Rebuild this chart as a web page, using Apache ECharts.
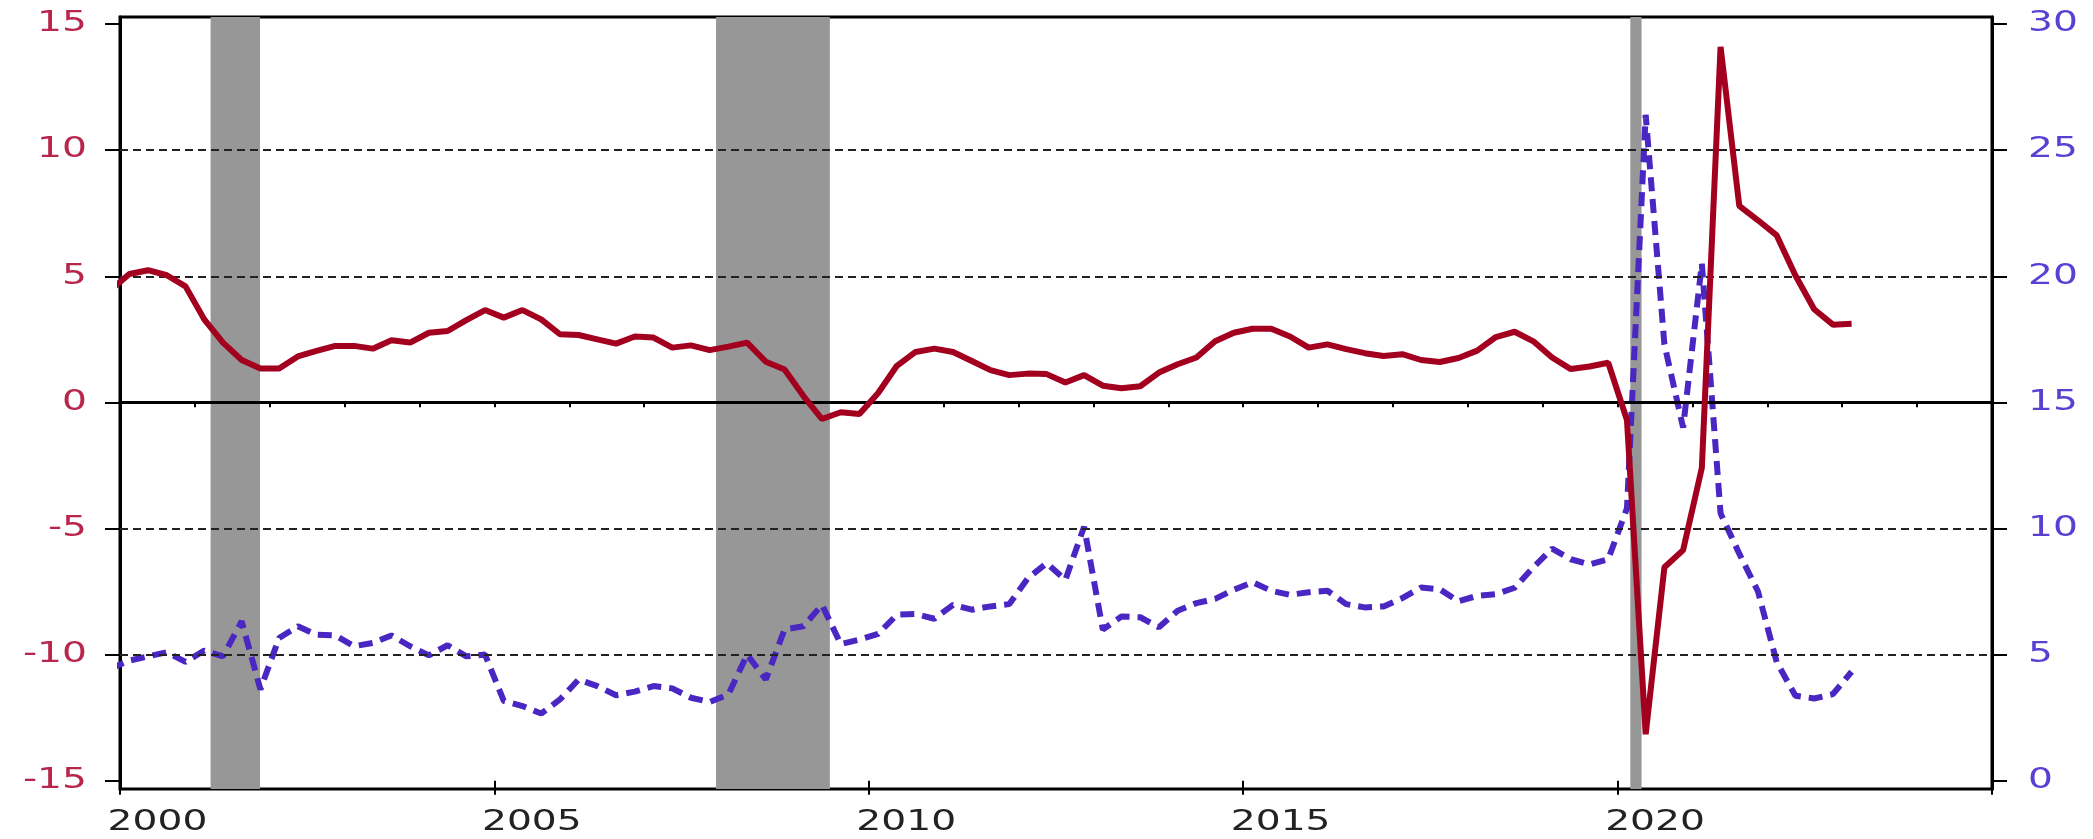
<!DOCTYPE html>
<html>
<head>
<meta charset="utf-8">
<script src="https://cdn.jsdelivr.net/npm/echarts@6/dist/echarts.min.js"></script>
<style>
  html, body { margin: 0; padding: 0; background: #fff; }
  #chart { width: 2093px; height: 839px; }
</style>
</head>
<body>
<div id="chart"></div>
<script>
// quarterly data, 1999Q4 .. 2023Q1
var firstYear = 1999, firstQuarter = 4;

// solid red line, left axis (%)
var redValues = [
  4.45,
  5.09, 5.24, 5.04, 4.60,
  3.29, 2.37, 1.68, 1.34,
  1.34, 1.82, 2.04, 2.24,
  2.24, 2.13, 2.46, 2.37,
  2.76, 2.83, 3.26, 3.66,
  3.36, 3.66, 3.29, 2.70,
  2.67, 2.50, 2.33, 2.61,
  2.57, 2.17, 2.26, 2.07,
  2.21, 2.37, 1.61, 1.30,
  0.26, -0.66, -0.39, -0.46,
  0.37, 1.45, 2.00, 2.13,
  2.00, 1.64, 1.28, 1.08,
  1.14, 1.12, 0.79, 1.08,
  0.66, 0.56, 0.64, 1.18,
  1.51, 1.78, 2.42, 2.76,
  2.92, 2.92, 2.61, 2.17,
  2.30, 2.11, 1.95, 1.84,
  1.91, 1.68, 1.60, 1.76,
  2.05, 2.59, 2.80, 2.42,
  1.78, 1.32, 1.42, 1.57,
  -0.70, -13.16, -6.54, -5.86,
  -2.60, 14.10, 7.79, 7.22,
  6.62, 5.03, 3.69, 3.08,
  3.12
];

// dashed purple line, right axis (%)
var dashValues = [
  4.45,
  4.76, 4.93, 5.09, 4.71,
  5.16, 4.93, 6.32, 3.62,
  5.66, 6.12, 5.79, 5.76,
  5.33, 5.46, 5.76, 5.33,
  4.97, 5.37, 4.93, 5.00,
  3.16, 2.96, 2.66, 3.22,
  4.01, 3.75, 3.39, 3.53,
  3.75, 3.66, 3.29, 3.12,
  3.42, 5.00, 4.01, 6.00,
  6.12, 6.97, 5.42, 5.59,
  5.82, 6.58, 6.61, 6.42,
  6.97, 6.78, 6.91, 7.00,
  8.03, 8.62, 7.96, 10.07,
  5.99, 6.51, 6.48, 6.08,
  6.74, 7.04, 7.21, 7.57,
  7.87, 7.53, 7.37, 7.47,
  7.53, 7.00, 6.87, 6.91,
  7.24, 7.66, 7.59, 7.11,
  7.33, 7.40, 7.65, 8.46,
  9.20, 8.78, 8.57, 8.78,
  10.80, 26.40, 17.30, 14.00,
  20.50, 10.60, 9.00, 7.50,
  4.70, 3.37, 3.26, 3.43,
  4.32
];

// recession bands (decimal years)
var recessionStart = [2001.21, 2007.96, 2020.17];
var recessionEnd   = [2001.87, 2009.48, 2020.32];

var leftTicks  = [-15, -10, -5, 0, 5, 10, 15];
var rightTicks = [0, 5, 10, 15, 20, 25, 30];
var dashedGrid = [-10, -5, 5, 10];
var yearLabels = [2000, 2005, 2010, 2015, 2020];
var majorYears = [2000, 2005, 2010, 2015, 2020, 2025];

var minorYears = [];
for (var y = 2000; y <= 2025; y++) minorYears.push(y);

// x position of each quarter = middle of the quarter
var quarterPos = [];
var yy = firstYear, qq = firstQuarter;
for (var i = 0; i < redValues.length; i++) {
  quarterPos.push(yy + (qq - 0.5) / 4);
  qq++;
  if (qq > 4) { qq = 1; yy++; }
}

var redData = quarterPos.map(function (t, i) { return [t, redValues[i]]; });
var dashData = quarterPos.map(function (t, i) { return [t, dashValues[i]]; });

var font = 'DejaVu Sans';
var fontSize = 28;
var stretch = 1.4;   // labels in the original are drawn wide
var chart = echarts.init(document.getElementById('chart'));

var option = {
  backgroundColor: '#ffffff',
  animation: false,
  grid: {
    left: 120, right: 101, top: 17, bottom: 50,
    show: true, borderColor: '#000', borderWidth: 3,
    backgroundColor: 'transparent'
  },
  xAxis: [{
    type: 'value', min: 2000, max: 2025, position: 'bottom',
    axisLine: { show: true, lineStyle: { color: '#000', width: 3 } },
    axisTick: { show: true, customValues: minorYears, length: 5, lineStyle: { color: '#000', width: 2 } },
    axisLabel: { show: false },
    splitLine: { show: false }
  }, {
    type: 'value', min: 2000, max: 2025, position: 'bottom',
    axisLine: { show: false },
    axisTick: { show: true, customValues: majorYears, length: 14, lineStyle: { color: '#000', width: 2 } },
    axisLabel: { show: false },
    splitLine: { show: false }
  }],
  yAxis: [{
    type: 'value', min: -15.33, max: 15.28, position: 'left',
    axisLine: { show: true, lineStyle: { color: '#000', width: 3 } },
    axisTick: { show: true, customValues: leftTicks, length: 15, lineStyle: { color: '#000', width: 2 } },
    axisLabel: { show: false },
    splitLine: { show: false }
  }, {
    type: 'value', min: -0.33, max: 30.28, position: 'right',
    axisLine: { show: true, lineStyle: { color: '#000', width: 3 } },
    axisTick: { show: true, customValues: rightTicks, length: 15, lineStyle: { color: '#000', width: 2 } },
    axisLabel: { show: false },
    splitLine: { show: false }
  }],
  series: [
    {
      // recession shading
      type: 'line', data: [], z: 1, silent: true,
      markArea: {
        silent: true,
        itemStyle: { color: '#979797', opacity: 1 },
        data: recessionStart.map(function (s, i) {
          return [{ xAxis: s }, { xAxis: recessionEnd[i] }];
        })
      }
    },
    {
      // grid lines
      type: 'line', data: [], z: 2, silent: true,
      markLine: {
        silent: true, symbol: 'none', label: { show: false },
        data: dashedGrid.map(function (v) {
          return { yAxis: v, lineStyle: { color: '#222', width: 2, type: [8, 5] } };
        }).concat([{ yAxis: 0, lineStyle: { color: '#000', width: 3, type: 'solid' } }])
      }
    },
    {
      type: 'line', data: dashData, yAxisIndex: 1, z: 4,
      showSymbol: false,
      lineStyle: { color: '#4a26c2', width: 6, type: [14, 8] }
    },
    {
      type: 'line', data: redData, yAxisIndex: 0, z: 5,
      showSymbol: false,
      lineStyle: { color: '#a3001f', width: 6 }
    }
  ]
};

chart.setOption(option);

// axis labels as stretched text, placed through the axes' own scales
function label(text, x, y, align, vAlign, color) {
  return {
    type: 'text', x: x, y: y, scaleX: stretch, silent: true,
    style: {
      text: text, fill: color, font: fontSize + 'px "' + font + '"',
      align: align, verticalAlign: vAlign
    }
  };
}
var grid = chart.getModel().getComponent('grid').coordinateSystem.getRect();
var labels = [];
leftTicks.forEach(function (v) {
  var py = chart.convertToPixel({ yAxisIndex: 0 }, v);
  labels.push(label(String(v), grid.x - 33, py, 'right', 'middle', '#b8264c'));
});
rightTicks.forEach(function (v) {
  var py = chart.convertToPixel({ yAxisIndex: 1 }, v);
  labels.push(label(String(v), grid.x + grid.width + 36, py, 'left', 'middle', '#5a3fd2'));
});
yearLabels.forEach(function (v) {
  var px = chart.convertToPixel({ xAxisIndex: 1 }, v + 0.5);
  labels.push(label(String(v), px, grid.y + grid.height + 34, 'center', 'middle', '#222'));
});
chart.setOption({ graphic: labels });

window.onresize = function () { chart.resize(); };
</script>
</body>
</html>
